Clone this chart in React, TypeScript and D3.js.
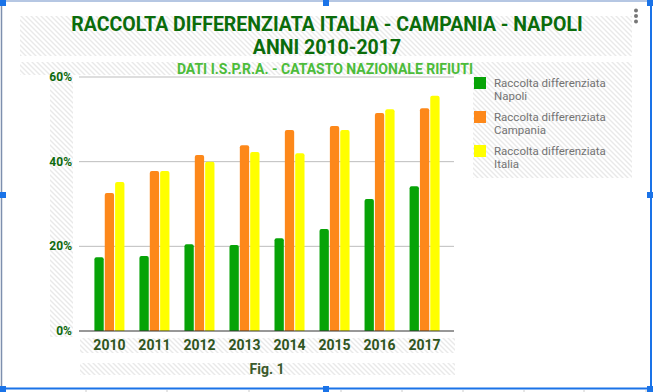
import React from "react";
import * as d3 from "d3";

const years = ["2010", "2011", "2012", "2013", "2014", "2015", "2016", "2017"];
const napoli = [17.4, 17.7, 20.5, 20.3, 21.9, 24.1, 31.2, 34.2];
const campania = [32.6, 37.8, 41.6, 43.9, 47.5, 48.4, 51.5, 52.6];
const italia = [35.2, 37.8, 40.0, 42.3, 42.0, 47.5, 52.4, 55.6];
const seriesNames = ["Napoli", "Campania", "Italia"];
const seriesColors = ["#07a307", "#fd881a", "#ffff00"];
const yTicks = [0, 20, 40, 60];
const titleLines = ["RACCOLTA DIFFERENZIATA ITALIA - CAMPANIA - NAPOLI", "ANNI 2010-2017"];
const subtitle = "DATI I.S.P.R.A. - CATASTO NAZIONALE RIFIUTI";
const xTitle = "Fig. 1";
const rulerTicks = [86, 167, 249, 341, 402, 463, 524, 584, 646];

const W = 653;
const H = 392;
const FONT = "Roboto, 'Noto Sans', sans-serif";

function topRoundedBar(x: number, y: number, w: number, h: number, r: number) {
  const rr = Math.min(r, h, w / 2);
  return `M${x},${y + h}V${y + rr}Q${x},${y} ${x + rr},${y}H${x + w - rr}Q${x + w},${y} ${x + w},${y + rr}V${y + h}Z`;
}

export default function App() {
  const allSeries = [napoli, campania, italia];
  const x0 = d3.scaleBand<string>().domain(years).range([80, 454]).paddingInner(1 / 3).paddingOuter(0.32);
  const x1 = d3.scaleBand<string>().domain(seriesNames).range([0, x0.bandwidth()]).paddingInner(0.1).paddingOuter(0);
  const y = d3.scaleLinear().domain([0, 60]).range([331, 77]);

  const handles = [
    [0, 0], [323, 0], [647, 0],
    [0, 192], [647, 192],
    [0, 386], [323, 386], [647, 386],
  ];

  return (
    <svg width={W} height={H} style={{ position: "absolute", left: 0, top: 0, background: "#fff" }} fontFamily={FONT}>
      <defs>
        <pattern id="hatch" patternUnits="userSpaceOnUse" width="5" height="5">
          <rect width="5" height="5" fill="#fff" />
          <path d="M-1,-1L6,6M-1,4L1,6M4,-1L6,1" stroke="#e9e9e9" strokeWidth="1.4" />
        </pattern>
      </defs>
      <rect x={0} y={0} width={W} height={H} fill="#fff" />

      {/* hatched backgrounds */}
      <rect x={20} y={16} width={612} height={40} fill="url(#hatch)" />
      <rect x={20} y={62} width={612} height={13} fill="url(#hatch)" />
      <rect x={50} y={70} width={23} height={267} fill="url(#hatch)" />
      <rect x={473} y={63} width={159} height={115} fill="url(#hatch)" />
      <rect x={80} y={338} width={375} height={15} fill="url(#hatch)" />
      <rect x={80} y={363} width={375} height={12} fill="url(#hatch)" />

      {/* title */}
      {titleLines.map((t, i) => (
        <text key={t} x={327} y={31 + i * 23} textAnchor="middle" fontSize={19.5} fontWeight="bold" fill="#0b6c0b">
          {t}
        </text>
      ))}
      <text x={325} y={74} textAnchor="middle" fontSize={14} fontWeight="bold" fill="#4cbc3a">
        {subtitle}
      </text>

      {/* gridlines */}
      {yTicks.filter((t) => t > 0).map((t) => (
        <line key={t} x1={79} x2={454} y1={y(t)} y2={y(t)} stroke="#bdbdbd" strokeWidth={1} />
      ))}

      {/* bars */}
      {years.map((yr, i) => (
        <g key={yr} transform={`translate(${x0(yr)},0)`}>
          {allSeries.map((s, j) => (
            <path
              key={j}
              d={topRoundedBar(x1(seriesNames[j])!, y(s[i]), x1.bandwidth(), y(0) - y(s[i]), 2)}
              fill={seriesColors[j]}
            />
          ))}
        </g>
      ))}

      {/* baseline */}
      <line x1={79} x2={454} y1={331} y2={331} stroke="#333" strokeWidth={1.2} />

      {/* y tick labels */}
      {yTicks.map((t) => (
        <text key={t} x={72} y={y(t) + 4} textAnchor="end" fontSize={12} fontWeight="bold" fill="#0d6a0d">
          {t + "%"}
        </text>
      ))}

      {/* x labels */}
      {years.map((yr) => (
        <text key={yr} x={x0(yr)! + x0.bandwidth() / 2} y={350} textAnchor="middle" fontSize={14} fontWeight="bold" fill="#2f5520">
          {yr}
        </text>
      ))}
      <text x={267} y={374} textAnchor="middle" fontSize={14} fontWeight="bold" fill="#3b5a2b">
        {xTitle}
      </text>

      {/* legend */}
      {seriesNames.map((n, i) => (
        <g key={n} transform={`translate(474,${77 + i * 34})`}>
          <rect x={0} y={0} width={12} height={12} fill={seriesColors[i]} />
          <text x={20} y={9.5} fontSize={11.5} fill="#737373">
            Raccolta differenziata
          </text>
          <text x={20} y={22.5} fontSize={11.5} fill="#737373">
            {n}
          </text>
        </g>
      ))}

      {/* menu dots */}
      {[10.5, 16, 21.5].map((cy) => (
        <circle key={cy} cx={636} cy={cy} r={2} fill="#777" />
      ))}

      {/* selection frame */}
      <line x1={0} x2={W} y1={1} y2={1} stroke="#6d8fc7" strokeWidth={1} />
      <line x1={1.5} x2={1.5} y1={0} y2={388} stroke="#7d8fae" strokeWidth={1.5} />
      <line x1={651} x2={651} y1={0} y2={388} stroke="#1a73e8" strokeWidth={2} />
      <line x1={0} x2={W} y1={388.5} y2={388.5} stroke="#1a73e8" strokeWidth={2} />
      {rulerTicks.map((rx) => (
        <line key={rx} x1={rx} x2={rx} y1={390} y2={392} stroke="#ccc" strokeWidth={1} />
      ))}
      {handles.map(([hx, hy], i) => (
        <rect key={i} x={hx} y={hy} width={6} height={6} fill="#1a73e8" />
      ))}
    </svg>
  );
}
